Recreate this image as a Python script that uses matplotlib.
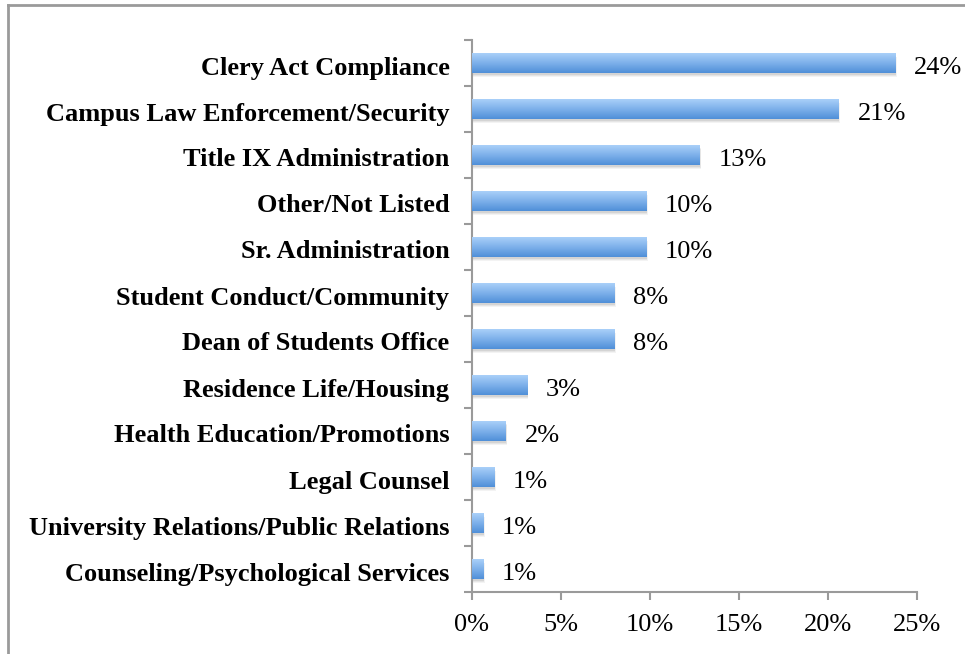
import matplotlib
matplotlib.use("Agg")
import matplotlib.pyplot as plt
import matplotlib.transforms as mtransforms
import numpy as np
from matplotlib.patches import Rectangle
from matplotlib.colors import LinearSegmentedColormap
from matplotlib.lines import Line2D

categories = [
    "Clery Act Compliance",
    "Campus Law Enforcement/Security",
    "Title IX Administration",
    "Other/Not Listed",
    "Sr. Administration",
    "Student Conduct/Community",
    "Dean of Students Office",
    "Residence Life/Housing",
    "Health Education/Promotions",
    "Legal Counsel",
    "University Relations/Public Relations",
    "Counseling/Psychological Services",
]
values = [23.8, 20.6, 12.8, 9.8, 9.8, 8.0, 8.0, 3.1, 1.9, 1.25, 0.63, 0.63]
value_labels = ["24%", "21%", "13%", "10%", "10%", "8%", "8%", "3%", "2%", "1%", "1%", "1%"]
xticks = [0, 5, 10, 15, 20, 25]
xtick_labels = ["0%", "5%", "10%", "15%", "20%", "25%"]

W, H = 965, 654
fig = plt.figure(figsize=(W / 100, H / 100), dpi=100)
ax = fig.add_axes([471.7 / W, 1 - 592 / H, (916.7 - 471.7) / W, (592 - 40) / H])

n = len(categories)
ypos = np.arange(n)[::-1]  # first category at top
bar_h = 0.43

cmap = LinearSegmentedColormap.from_list("g", ["#4f8fd8", "#7db0ea", "#aad0f9"])
grad = np.linspace(0, 1, 256).reshape(-1, 1)

ax.set_xlim(0, 25)
ax.set_ylim(-0.5, n - 0.5)

for y, v, lab in zip(ypos, values, value_labels):
    # soft shadow
    for k, a in [(0.09, 0.08), (0.06, 0.10), (0.035, 0.14)]:
        sh = Rectangle((0, y - bar_h / 2 - k), v + k * 1.0, bar_h, facecolor="#707070",
                       edgecolor="none", alpha=a, zorder=1)
        ax.add_patch(sh)
    bar = ax.barh(y, v, height=bar_h, color="none", edgecolor="none", zorder=2)[0]
    im = ax.imshow(grad, cmap=cmap, aspect="auto", origin="lower",
                   extent=[0, v, y - bar_h / 2, y + bar_h / 2], zorder=3)
    im.set_clip_path(bar)
    ax.annotate(lab, xy=(v, y), xytext=(13.7, -3.5), textcoords="offset points",
                ha="left", va="center", fontsize=19, family="Liberation Serif",
                color="black")

ax.set_xlim(0, 25)
ax.set_ylim(-0.5, n - 0.5)

axis_color = "#9a9a9a"
for s in ["top", "right"]:
    ax.spines[s].set_visible(False)
for s in ["left", "bottom"]:
    ax.spines[s].set_color(axis_color)
    ax.spines[s].set_linewidth(1.5)

ax.set_xticks(xticks)
ax.set_xticklabels(xtick_labels, family="Liberation Serif", fontsize=19)
ax.tick_params(axis="x", direction="out", length=6, width=1.5, color=axis_color, pad=10)

ax.set_yticks(ypos)
ax.set_yticklabels(categories, family="Liberation Serif", fontweight="bold", fontsize=19)
ax.tick_params(axis="y", which="major", length=0, pad=16)
ax.set_yticks(np.arange(n + 1) - 0.5, minor=True)
ax.tick_params(axis="y", which="minor", direction="out", length=6, width=1.5, color=axis_color)
offset = mtransforms.ScaledTranslation(0, -2.5 / 100, fig.dpi_scale_trans)
for t in ax.get_yticklabels():
    t.set_va("center_baseline")
    t.set_transform(t.get_transform() + offset)

# outer frame (top and left visible)
fig.add_artist(Line2D([8 / W, 8 / W], [0, 1 - 5 / H], transform=fig.transFigure,
                      color="#9a9a9a", linewidth=2))
fig.add_artist(Line2D([8 / W, 1], [1 - 5 / H, 1 - 5 / H], transform=fig.transFigure,
                      color="#9a9a9a", linewidth=2))

fig.savefig("out.png", dpi=100)
